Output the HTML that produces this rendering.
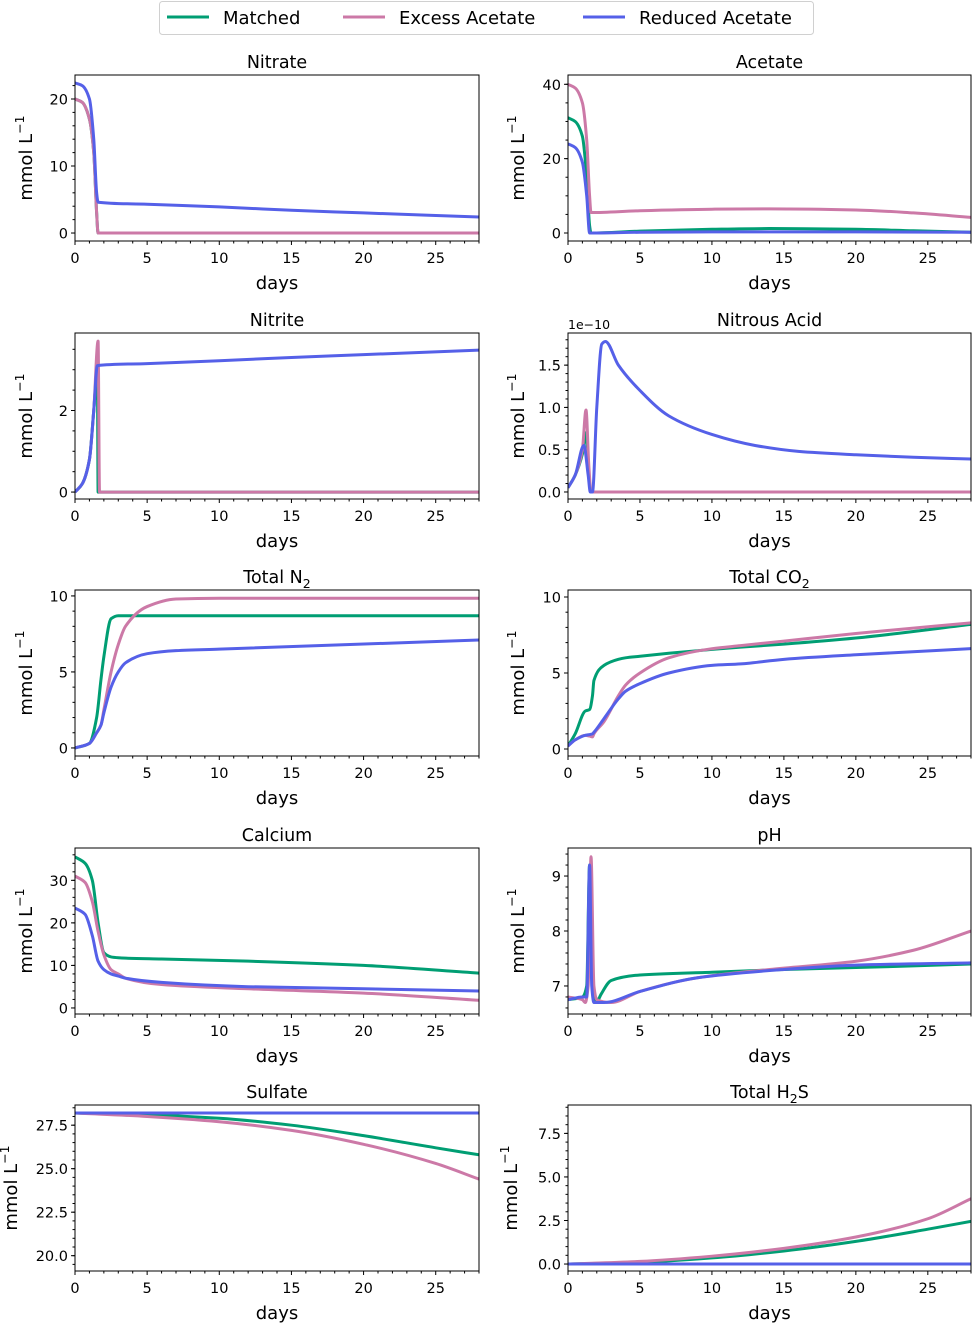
<!DOCTYPE html>
<html><head><meta charset="utf-8">
<style>
html,body{margin:0;padding:0;background:#fff;}
svg{display:block;font-family:"DejaVu Sans","Liberation Sans",sans-serif;}
</style></head>
<body>
<svg id="fig" width="973" height="1323" viewBox="0 0 973 1323" xmlns="http://www.w3.org/2000/svg">
  <g>
    <rect x="159.5" y="1.5" width="654" height="33" rx="3" fill="#fff" stroke="#d0d0d0"/>
    <line x1="167" y1="17" x2="209" y2="17" stroke="#009E73" stroke-width="3"/>
    <text x="223" y="24" font-size="18">Matched</text>
    <line x1="343" y1="17" x2="385" y2="17" stroke="#CC79A7" stroke-width="3"/>
    <text x="399" y="24" font-size="18">Excess Acetate</text>
    <line x1="583" y1="17" x2="625" y2="17" stroke="#5560E8" stroke-width="3"/>
    <text x="639" y="24" font-size="18">Reduced Acetate</text>
  </g>
</svg>
<script>
// ---- data (days / values) ----
const nitrateX = [0,0.5,1.0,1.3,1.5,1.6,5,10,15,20,28];
const nitrateMatched = [20,19.5,17,12,3,0,0,0,0,0,0];
const nitrateExcess = [20,19.5,17,12,3,0,0,0,0,0,0];
const nitrateReducedX = [0,0.5,1.0,1.3,1.5,1.6,5,10,15,20,28];
const nitrateReduced = [22.4,22,20,14,6,4.6,4.3,3.9,3.4,3.0,2.4];

const acetateX = [0,0.5,1.0,1.3,1.5,1.6,5,10,14,20,24,28];
const acetateMatched = [31,30,26,15,2,0,0.5,1.0,1.2,1.0,0.6,0.2];
const acetateExcess = [40,39,35,25,10,5.5,6,6.4,6.5,6.2,5.4,4.2];
const acetateReducedX = [0,0.5,1.0,1.3,1.5,1.6,5,10,15,20,28];
const acetateReduced = [24,23,19,10,0,0,0.2,0.3,0.3,0.3,0.2];

const nitriteMatchedX = [0,0.5,1.0,1.3,1.55,1.6,5,28];
const nitriteMatched = [0,0.2,0.8,2,3.0,0,0,0];
const nitriteExcessX = [0,0.5,1.0,1.3,1.6,1.7,5,28];
const nitriteExcess = [0,0.2,0.8,2,3.7,0,0,0];
const nitriteReducedX = [0,0.5,1.0,1.3,1.55,5,10,15,20,28];
const nitriteReduced = [0,0.2,0.8,2,3.1,3.15,3.22,3.3,3.37,3.48];

const hno2MatchedX = [0,0.5,1.0,1.25,1.45,1.6,5,28];
const hno2Matched = [0.05,0.2,0.45,0.7,0.2,0,0,0];
const hno2ExcessX = [0,0.5,1.0,1.25,1.45,1.6,5,28];
const hno2Excess = [0.05,0.2,0.5,0.97,0.3,0,0,0];
const hno2ReducedX = [0,0.5,1.1,1.4,1.55,1.7,2.0,2.35,2.6,3.5,5,7,10,13,16,20,24,28];
const hno2Reduced = [0.05,0.2,0.55,0.2,0,0,1.0,1.75,1.78,1.5,1.2,0.9,0.68,0.55,0.48,0.44,0.41,0.39];

const n2X = [0,1,1.5,1.8,2,2.5,3,3.5,5,7,10,28];
const n2Matched = [0,0.3,2,4.5,6,8.5,8.7,8.7,8.7,8.7,8.7,8.7];
const n2Excess = [0,0.3,1,1.5,2.5,5,6.8,8,9.3,9.8,9.85,9.85];
const n2Reduced = [0,0.3,1,1.5,2.3,4,5,5.6,6.2,6.4,6.5,7.1];

const co2X = [0,0.5,1.2,1.5,1.7,1.8,2.5,3.5,4,5,7,10,12,15,20,28];
const co2Matched = [0.2,1,2.5,2.6,3.5,4.5,5.5,5.9,6,6.1,6.3,6.55,6.7,6.9,7.3,8.2];
const co2Excess = [0.2,0.6,0.9,0.85,0.8,1.0,1.8,3.5,4.2,5,6,6.6,6.8,7.1,7.6,8.3];
const co2Reduced = [0.2,0.6,0.9,0.95,1.0,1.1,2,3.3,3.8,4.3,5.0,5.5,5.6,5.9,6.2,6.6];

const caX = [0,0.7,1.2,1.6,2,2.5,3,3.5,6,12,20,28];
const caMatched = [35.5,34,30,20,13,12,11.8,11.7,11.5,11,10,8.2];
const caExcess = [31,29.5,25,18,12.5,9,8,7,5.5,4.5,3.5,1.8];
const caReduced = [23.5,22,17,11,9,8,7.5,7,6,5,4.5,4];

const phMatchedX = [0,1,1.3,1.5,1.7,1.9,2.1,2.3,3,5,10,15,22,28];
const phMatched = [6.75,6.8,7,9.2,7,6.7,6.75,6.85,7.1,7.2,7.25,7.3,7.35,7.4];
const phExcessX = [0,1,1.2,1.4,1.6,1.8,2.0,3,5,9,14,20,24,28];
const phExcess = [6.8,6.75,6.7,7,9.35,7,6.75,6.7,6.9,7.15,7.3,7.45,7.65,8.0];
const phReducedX = [0,1,1.3,1.5,1.65,1.8,2.5,5,9,15,20,28];
const phReduced = [6.75,6.8,6.8,9.2,7,6.7,6.7,6.9,7.15,7.3,7.38,7.42];

const so4X = [0,5,10,15,20,25,28];
const so4Matched = [28.2,28.1,27.9,27.5,26.9,26.2,25.8];
const so4Excess = [28.2,28.0,27.7,27.2,26.4,25.3,24.4];
const so4Reduced = [28.2,28.2,28.2,28.2,28.2,28.2,28.2];

const h2sX = [0,5,10,15,20,25,28];
const h2sMatched = [0,0.1,0.35,0.75,1.3,2.0,2.45];
const h2sExcess = [0,0.15,0.45,0.9,1.55,2.6,3.75];
const h2sReduced = [0,0,0,0,0,0,0];

const xTicks = [0,5,10,15,20,25];
const nitrateTicks = [0,10,20];
const acetateTicks = [0,20,40];
const nitriteTicks = [0,2];
const hno2Ticks = [0,0.5,1.0,1.5];
const n2Ticks = [0,5,10];
const co2Ticks = [0,5,10];
const caTicks = [0,10,20,30];
const phTicks = [7,8,9];
const so4Ticks = [20.0,22.5,25.0,27.5];
const h2sTicks = [0,2.5,5.0,7.5];

const COLORS = {m:'#009E73', e:'#CC79A7', r:'#5560E8'};
const NS = 'http://www.w3.org/2000/svg';
const fig = document.getElementById('fig');

function mk(tag, name, inter, attrs, parent){
  const el = document.createElementNS(NS, tag);
  
  
  for (const k in attrs) el.setAttribute(k, attrs[k]);
  (parent||fig).appendChild(el);
  return el;
}

function smoothPath(P){
  const n=P.length;
  if(n<2) return '';
  const dx=[],m=[],t=new Array(n);
  for(let i=0;i<n-1;i++){dx[i]=P[i+1][0]-P[i][0]; m[i]=(P[i+1][1]-P[i][1])/(dx[i]||1e-9);}
  t[0]=m[0]; t[n-1]=m[n-2];
  for(let i=1;i<n-1;i++){
    if(m[i-1]*m[i]<=0) t[i]=0;
    else { const w1=2*dx[i]+dx[i-1], w2=dx[i]+2*dx[i-1]; t[i]=(w1+w2)/(w1/m[i-1]+w2/m[i]); }
  }
  let d='M'+P[0][0].toFixed(2)+','+P[0][1].toFixed(2);
  for(let i=0;i<n-1;i++){
    const h=dx[i]/3;
    d+='C'+(P[i][0]+h).toFixed(2)+','+(P[i][1]+t[i]*h).toFixed(2)+' '+(P[i+1][0]-h).toFixed(2)+','+(P[i+1][1]-t[i+1]*h).toFixed(2)+' '+P[i+1][0].toFixed(2)+','+P[i+1][1].toFixed(2);
  }
  return d;
}

function panel(p){
  const g = mk('g', p.id+'-panel', 'false', {});
  const L=p.left, T=p.top, W=p.w, H=166, B=T+H;
  const sx = d => L + d/28*W;
  const sy = v => B - (v - p.ymin)/(p.ymax-p.ymin)*H;
  const cp = mk('clipPath', p.id+'-clip', 'false', {id:'clip-'+p.id}, g);
  mk('rect', p.id+'-clip-rect', 'false', {x:L, y:T, width:W, height:H}, cp);
  p.series.forEach(s=>{
    const pts = s.x.map((xv,i)=>[sx(xv), sy(s.y[i])]);
    mk('path', p.id+'-line-'+s.name, 'false', {d:smoothPath(pts), fill:'none', stroke:COLORS[s.c], 'stroke-width':3, 'stroke-linejoin':'round', 'clip-path':'url(#clip-'+p.id+')'}, g);
  });
  mk('rect', p.id+'-frame', 'false', {x:L, y:T, width:W, height:H, fill:'none', stroke:'#000', 'stroke-width':1}, g);
  for (let d=0; d<=28; d++){
    const major = d%5===0;
    mk('line', p.id+'-x-tick', 'false', {x1:sx(d), x2:sx(d), y1:B, y2:B+(major?4:2.5), stroke:'#000', 'stroke-width':1}, g);
  }
  xTicks.forEach(t=>{
    const tx = mk('text', p.id+'-x-tick-label', 'false', {x:sx(t), y:B+22, 'font-size':14.5, 'text-anchor':'middle'}, g);
    tx.textContent = t;
  });
  const xl = mk('text', p.id+'-x-axis-title', 'false', {x:L+W/2, y:B+48, 'font-size':18, 'text-anchor':'middle'}, g);
  xl.textContent = 'days';
  const step = p.minor;
  for (let v=Math.ceil(p.ymin/step)*step; v<=p.ymax+1e-9; v+=step){
    mk('line', p.id+'-y-minor-tick', 'false', {x1:L-2.5, x2:L, y1:sy(v), y2:sy(v), stroke:'#000', 'stroke-width':1}, g);
  }
  p.ticks.forEach((t,i)=>{
    mk('line', p.id+'-y-tick', 'false', {x1:L-4, x2:L, y1:sy(t), y2:sy(t), stroke:'#000', 'stroke-width':1}, g);
    const ty = mk('text', p.id+'-y-tick-label', 'false', {x:L-7, y:sy(t)+5.5, 'font-size':14.5, 'text-anchor':'end'}, g);
    ty.textContent = p.labels ? p.labels[i] : t;
  });
  const yx = L - p.yoff;
  const yl = mk('text', p.id+'-y-axis-title', 'false', {x:yx, y:T+H/2, 'font-size':18, 'text-anchor':'middle', transform:'rotate(-90 '+yx+' '+(T+H/2)+')'}, g);
  yl.innerHTML = 'mmol L<tspan font-size="12.5" dy="-8">−1</tspan>';
  const tt = mk('text', p.id+'-title', 'false', {x:L+W/2, y:T-7, 'font-size':17.5, 'text-anchor':'middle'}, g);
  tt.innerHTML = p.title;
  if (p.offset){
    const ot = mk('text', p.id+'-offset-text', 'false', {x:L, y:T-4, 'font-size':12.5}, g);
    ot.textContent = p.offset;
  }
}

const LX=75, RX=568, LW=404, RW=403;
panel({id:'nitrate', left:LX, top:75, w:LW, ymin:-1.19, ymax:23.58, ticks:nitrateTicks, minor:2, yoff:43, title:'Nitrate',
  series:[{name:'matched',c:'m',x:nitrateX,y:nitrateMatched},{name:'excess-acetate',c:'e',x:nitrateX,y:nitrateExcess},{name:'reduced-acetate',c:'r',x:nitrateReducedX,y:nitrateReduced}]});
panel({id:'acetate', left:RX, top:75, w:RW, ymin:-2.15, ymax:42.5, ticks:acetateTicks, minor:5, yoff:44, title:'Acetate',
  series:[{name:'matched',c:'m',x:acetateX,y:acetateMatched},{name:'excess-acetate',c:'e',x:acetateX,y:acetateExcess},{name:'reduced-acetate',c:'r',x:acetateReducedX,y:acetateReduced}]});
panel({id:'nitrite', left:LX, top:333, w:LW, ymin:-0.17, ymax:3.9, ticks:nitriteTicks, minor:0.5, yoff:43, title:'Nitrite',
  series:[{name:'matched',c:'m',x:nitriteMatchedX,y:nitriteMatched},{name:'excess-acetate',c:'e',x:nitriteExcessX,y:nitriteExcess},{name:'reduced-acetate',c:'r',x:nitriteReducedX,y:nitriteReduced}]});
panel({id:'nitrous-acid', left:RX, top:333, w:RW, ymin:-0.083, ymax:1.88, ticks:hno2Ticks, labels:['0.0','0.5','1.0','1.5'], minor:0.1, yoff:44, title:'Nitrous Acid', offset:'1e−10',
  series:[{name:'matched',c:'m',x:hno2MatchedX,y:hno2Matched},{name:'excess-acetate',c:'e',x:hno2ExcessX,y:hno2Excess},{name:'reduced-acetate',c:'r',x:hno2ReducedX,y:hno2Reduced}]});
panel({id:'total-n2', left:LX, top:590, w:LW, ymin:-0.53, ymax:10.39, ticks:n2Ticks, minor:1, yoff:43, title:'Total N<tspan font-size="12.5" dy="5">2</tspan>',
  series:[{name:'matched',c:'m',x:n2X,y:n2Matched},{name:'excess-acetate',c:'e',x:n2X,y:n2Excess},{name:'reduced-acetate',c:'r',x:n2X,y:n2Reduced}]});
panel({id:'total-co2', left:RX, top:590, w:RW, ymin:-0.46, ymax:10.46, ticks:co2Ticks, minor:1, yoff:44, title:'Total CO<tspan font-size="12.5" dy="5">2</tspan>',
  series:[{name:'matched',c:'m',x:co2X,y:co2Matched},{name:'excess-acetate',c:'e',x:co2X,y:co2Excess},{name:'reduced-acetate',c:'r',x:co2X,y:co2Reduced}]});
panel({id:'calcium', left:LX, top:848, w:LW, ymin:-1.42, ymax:37.6, ticks:caTicks, minor:2, yoff:43, title:'Calcium',
  series:[{name:'matched',c:'m',x:caX,y:caMatched},{name:'excess-acetate',c:'e',x:caX,y:caExcess},{name:'reduced-acetate',c:'r',x:caX,y:caReduced}]});
panel({id:'ph', left:RX, top:848, w:RW, ymin:6.49, ymax:9.51, ticks:phTicks, minor:0.2, yoff:44, title:'pH',
  series:[{name:'matched',c:'m',x:phMatchedX,y:phMatched},{name:'excess-acetate',c:'e',x:phExcessX,y:phExcess},{name:'reduced-acetate',c:'r',x:phReducedX,y:phReduced}]});
panel({id:'sulfate', left:LX, top:1105, w:LW, ymin:19.12, ymax:28.66, ticks:so4Ticks, labels:['20.0','22.5','25.0','27.5'], minor:0.5, yoff:58, title:'Sulfate',
  series:[{name:'matched',c:'m',x:so4X,y:so4Matched},{name:'excess-acetate',c:'e',x:so4X,y:so4Excess},{name:'reduced-acetate',c:'r',x:so4X,y:so4Reduced}]});
panel({id:'total-h2s', left:RX, top:1105, w:RW, ymin:-0.4, ymax:9.13, ticks:h2sTicks, labels:['0.0','2.5','5.0','7.5'], minor:0.5, yoff:51, title:'Total H<tspan font-size="12.5" dy="5">2</tspan><tspan dy="-5">S</tspan>',
  series:[{name:'matched',c:'m',x:h2sX,y:h2sMatched},{name:'excess-acetate',c:'e',x:h2sX,y:h2sExcess},{name:'reduced-acetate',c:'r',x:h2sX,y:h2sReduced}]});
</script>
</body></html>
